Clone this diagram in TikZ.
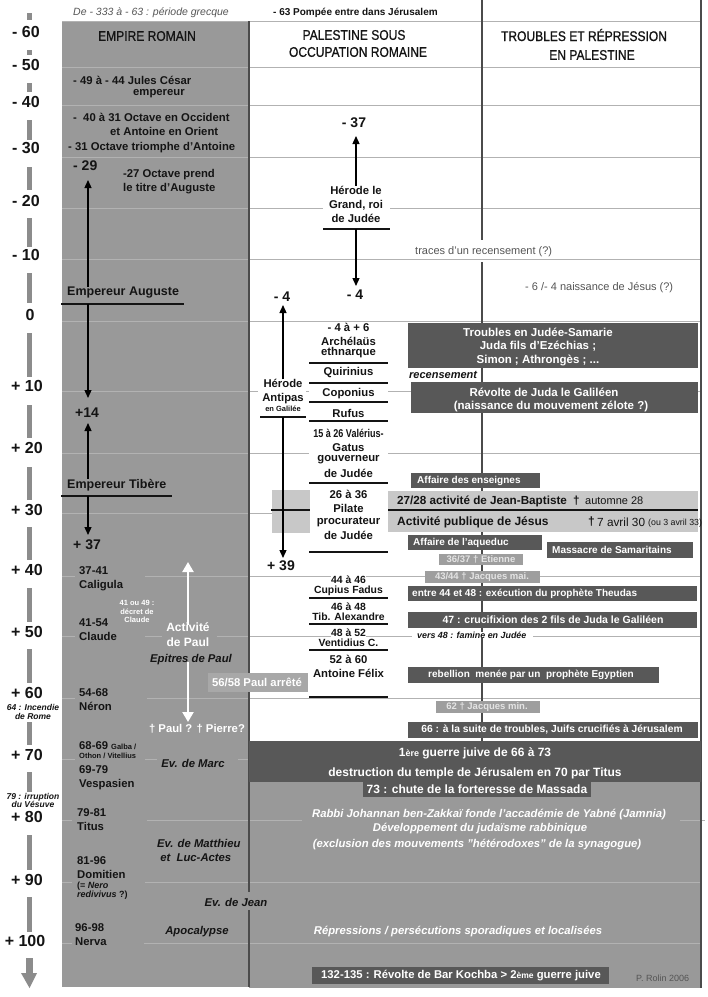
\documentclass[tikz,border=0pt]{standalone}
\usepackage{fontspec}
\setmainfont{Liberation Sans}
\newfontfamily\hdrfont[FakeStretch=0.86,FakeBold=0.8]{Liberation Sans}
\newfontfamily\condfont[FakeStretch=0.8]{Liberation Sans}
\usetikzlibrary{arrows.meta}
\newcommand{\myfs}[2]{\fontsize{#1}{#2}\selectfont}
\definecolor{colg}{RGB}{153,153,153}
\definecolor{dk}{RGB}{88,88,88}
\definecolor{ltg}{RGB}{200,200,200}
\definecolor{mdg}{RGB}{158,158,158}
\definecolor{grd}{RGB}{178,178,178}
\definecolor{vln}{RGB}{75,75,75}
\definecolor{tck}{RGB}{140,140,140}
\definecolor{txt}{RGB}{20,20,20}
\definecolor{soft}{RGB}{85,85,85}
\definecolor{pale}{RGB}{228,228,228}
\tikzset{
  sBase/.style={inner sep=0pt, text=txt},
  sLt/.style={sBase, font=\bfseries\myfs{11.3}{14}},
  sStk/.style={sBase, font=\bfseries\myfs{10.4}{10}},
  sLtB/.style={sBase, font=\bfseries\myfs{12.5}{15}},
  sBig/.style={sBase, font=\bfseries\myfs{14}{16}},
  sScl/.style={sBase, font=\bfseries\myfs{16}{17}},
  sIt/.style={sBase, font=\bfseries\itshape\myfs{11.3}{14}},
  sItSm/.style={sBase, font=\bfseries\itshape\myfs{8.5}{8.5}},
  sWt/.style={inner sep=0pt, text=white, font=\bfseries\myfs{11.3}{14}},
  sWs/.style={inner sep=0pt, text=white, font=\bfseries\myfs{10.3}{12}},
  sWm/.style={inner sep=0pt, text=pale, font=\bfseries\myfs{9.5}{11}},
  sWit/.style={inner sep=0pt, text=white, font=\bfseries\itshape\myfs{11.3}{14}},
  sSoft/.style={inner sep=0pt, text=soft, font=\myfs{11}{13}},
  sHdr/.style={inner sep=0pt, text=txt, font=\hdrfont\myfs{14}{17}},
  sArr/.style={draw=black, line width=1.3pt, -{Triangle[length=8pt,width=7pt]}},
  sWarr/.style={draw=white, line width=2.2pt, -{Triangle[length=10pt,width=11pt]}},
  sUl/.style={draw=txt, line width=1.1pt},
  sGrid/.style={draw=grd, line width=0.7pt},
  sVl/.style={draw=vln, line width=1.1pt},
}
\begin{document}
\begin{tikzpicture}[x=1pt,y=-1pt]
\useasboundingbox (0,0) rectangle (708,997);
\fill[white] (0,0) rectangle (708,997);

% background areas
\fill[colg] (62,22) rectangle (249,987);
\fill[colg] (249,782) rectangle (701,988);

% grid lines
\foreach \y/\a/\b in {21/62/701, 67/62/701, 105/62/701, 157/62/701, 208/62/323, 208/390/701,
  259/62/701, 321/62/701, 391/62/258, 391/306/309, 391/388/701, 453/62/309, 453/388/701,
  513/62/272, 576/62/75, 576/145/701, 636/62/75, 636/145/162, 636/217/412, 636/533/701,
  698/62/75, 698/147/701, 759/62/75, 759/145/157, 759/238/249, 820/62/72, 820/147/302,
  820/680/705, 882/62/72, 882/145/701, 943/62/72, 943/144/701}
  \draw[sGrid] (\a,\y) -- (\b,\y);

% vertical lines
\draw[sVl] (249,21) -- (249,892);
\draw[sVl] (249,910) -- (249,987);
\draw[sVl] (482,0) -- (482,240);
\draw[sVl] (482,262) -- (482,741);
\draw[sVl] (701,0) -- (701,988);

% time scale
\foreach \a/\b in {13/20, 50/55, 83/92, 120/140, 167/190, 218/247, 273/303, 333/377, 405/438,
  467/500, 527/560, 588/622, 649/683, 722/745, 772/792, 835/870, 897/932}
  \fill[tck] (27,\a) rectangle (32,\b);
\fill[tck] (26,958) rectangle (33,973);
\fill[tck] (21,973) -- (37,973) -- (29.5,988) -- cycle;
\foreach \t/\x/\y/\n in {- 60/26/32/a, - 50/26/65/b, - 40/26/102/c, - 30/26/148/d, - 20/26/201/e,
  - 10/26/255/f, 0/30/315/g, + 10/27/386/h, + 20/27/448/i, + 30/27/510/j, + 40/27/570/k,
  + 50/27/632/l, + 60/27/693/m, + 70/27/755/n, + 80/27/817/o, + 90/27/880/p, + 100/25/941/q}
  \node[sScl] (scl\n) at (\x,\y) {\t};
\node[sItSm, align=center] (rome) at (33,712) {64 : Incendie\\de Rome};
\node[sItSm, align=center] (vesuve) at (33,800.5) {79 : irruption\\du Vésuve};

% top texts and headers
\node[sBase, anchor=west, text=soft, font=\itshape\myfs{10.5}{12}] (grec) at (73,13) {De - 333 à - 63 : période grecque};
\node[sBase, anchor=west, font=\bfseries\myfs{10}{12}] (pompee) at (273,13) {- 63 Pompée entre dans Jérusalem};
\node[sHdr] (hEmp) at (147,36) {EMPIRE ROMAIN};
\node[sHdr] (hPal1) at (354,35) {PALESTINE SOUS};
\node[sHdr] (hPal2) at (358,52) {OCCUPATION ROMAINE};
\node[sHdr] (hTro1) at (584,35) {TROUBLES ET RÉPRESSION};
\node[sHdr] (hTro2) at (592,55) {EN PALESTINE};

% Empire romain column
\node[sLt, anchor=west] (cesar1) at (73,80) {- 49 à - 44 Jules César};
\node[sLt, anchor=west] (cesar2) at (133,94) {empereur};
\node[sLt, anchor=west] (oct1) at (73,117) {-\ \ 40 à 31 Octave en Occident};
\node[sLt, anchor=west] (oct2) at (110,131) {et Antoine en Orient};
\node[sLt, anchor=west] (oct3) at (68,148) {- 31 Octave triomphe d'Antoine};
\node[sBig, anchor=west] (m29) at (73,166) {- 29};
\node[sLt, anchor=west, align=left] (oct4) at (123,182) {-27 Octave prend\\le titre d'Auguste};
\node[sLtB, anchor=west] (aug) at (67,293) {Empereur Auguste};
\draw[sUl] (61,304) -- (184,304);
\node[sBig, anchor=west] (p14) at (75,413) {+14};
\node[sLtB, anchor=west] (tib) at (67,485) {Empereur Tibère};
\draw[sUl] (61,496) -- (172,496);
\node[sBig, anchor=west] (p37) at (73,545) {+ 37};

\node[sLt, anchor=west, align=left] (calig) at (79,579) {37-41\\Caligula};
\node[sLt, anchor=west, align=left] (claude) at (79,630) {41-54\\Claude};
\node[sLt, anchor=west, align=left] (neron) at (79,700) {54-68\\Néron};
\node[sLt, anchor=west] (galba) at (79,746) {68-69 {\myfs{7.5}{8}Galba /}};
\node[sBase, anchor=west, font=\bfseries\myfs{7.5}{8}] (othon) at (79,756) {Othon / Vitellius};
\node[sLt, anchor=west, align=left] (vesp) at (79,778) {69-79\\Vespasien};
\node[sLt, anchor=west, align=left] (titus) at (77,820) {79-81\\Titus};
\node[sLt, anchor=west, align=left] (domit) at (77,867.5) {81-96\\Domitien};
\node[sBase, anchor=west, align=left, font=\bfseries\myfs{9}{9.5}] (nero) at (77,890.5) {(= \textit{Nero}\\\textit{redivivus} ?)};
\node[sLt, anchor=west, align=left] (nerva) at (75,934.5) {96-98\\Nerva};

\node[sBase, text=white, align=center, font=\bfseries\myfs{7.5}{8.5}] (decret) at (137,611.5) {41 ou 49 :\\décret de\\Claude};
\node[sWt, align=center, font=\bfseries\myfs{12}{15}] (actp) at (188,634.5) {Activité\\de Paul};
\node[sIt] (epit) at (191,660) {Epitres de Paul};
\fill[mdg!90!white] (208,673) rectangle (308,692);
\node[sWt] (arrete) at (257,682.5) {56/58 Paul arrêté};
\node[sWt] (mort) at (197,729) {† Paul ? † Pierre?};
\node[sIt] (marc) at (193,763) {Ev. de Marc};
\node[sIt, anchor=west, align=left] (matt) at (157,850) {Ev. de Matthieu\\\ et\ \ Luc-Actes};
\node[sIt] (jean) at (236,902) {Ev. de Jean};
\node[sIt] (apoc) at (197,932) {Apocalypse};

% Palestine column
\node[sBig] (m37) at (354,123) {- 37};
\node[sLt, align=center] (herode) at (356,204) {Hérode le\\Grand, roi\\de Judée};
\draw[sUl] (323,229) -- (390,229);
\node[sBig] (m4a) at (355,295) {- 4};
\node[sBig] (m4b) at (282,297) {- 4};
\node[sLt, align=center] (antipas) at (283,392) {Hérode\\Antipas};
\node[sBase, font=\bfseries\myfs{7.5}{8}] (galilee) at (283,409) {en Galilée};
\draw[sUl] (260,417) -- (306,417);
\node[sBig] (p39) at (281,566) {+ 39};

% light band (Jean-Baptiste / Jesus)
\fill[ltg] (272,490) rectangle (310,533);
\fill[ltg] (388,491) rectangle (698,532);
\draw[sUl] (271,510) -- (310,510);
\draw[sUl] (388,510) -- (698,510);

% stack of governors
\foreach \t/\y/\n in {- 4 à + 6/327/a, Archélaüs/341/b, ethnarque/353/c, Quirinius/373/d,
  Coponius/394/e, Rufus/413/f, Gatus/448/h, gouverneur/460/i, de Judée/473/j,
  26 à 36/494/k, Pilate/508/l, procurateur/522/m, de Judée/535/n, 52 à 60/659/o, Antoine Félix/673/p}
  \node[sLt, fill=white, inner sep=0.5pt] (st\n) at (348.5,\y) {\t};
\node[sLt, fill=white, inner sep=0.5pt, font=\condfont\bfseries\myfs{11.3}{14}] (stg) at (348.5,433) {15 à 26 Valérius-};
\foreach \t/\y/\n in {44 à 46/580/q, Cupius Fadus/591/r, 46 à 48/607/s, Tib. Alexandre/617/t,
  48 à 52/633/u, Ventidius C./643/v}
  \node[sStk, fill=white, inner sep=0.5pt] (st\n) at (348.5,\y) {\t};
\foreach \y in {363,383,402,421,483,552,598,624,650,697}
  \draw[sUl] (309,\y) -- (388,\y);

% Troubles column
\node[sSoft, anchor=west] (traces) at (415,252) {traces d'un recensement (?)};
\node[sSoft, anchor=west] (naiss) at (525,288) {- 6 /- 4 naissance de Jésus (?)};

\fill[dk] (408,323) rectangle (698,368);
\node[sWt, align=center, font=\bfseries\myfs{11.5}{13.5}] (troub) at (538,346.5) {Troubles en Judée-Samarie\\Juda fils d'Ezéchias ;\\Simon ; Athrongès ; ...};
\node[sIt, anchor=west, font=\bfseries\itshape\myfs{11}{13}] (recens) at (409,375) {recensement};
\fill[dk] (411,382) rectangle (698,413);
\node[sWt, font=\bfseries\myfs{11.5}{13.5}] (revolte1) at (544,392) {Révolte de Juda le Galiléen};
\node[sWt, font=\bfseries\myfs{11.5}{13.5}] (revolte2) at (551,406) {(naissance du mouvement zélote ?)};
\fill[dk] (411,473) rectangle (540,488);
\node[sWs, anchor=west, font=\bfseries\myfs{10}{12}] (enseig) at (417,480.5) {Affaire des enseignes};

\node[sBase, anchor=west, font=\bfseries\myfs{11.7}{14}] (jb) at (397,501) {27/28 activité de Jean-Baptiste};
\node[sBase, anchor=west, font=\bfseries\myfs{11.7}{14}] (jbd) at (573,501) {†};
\node[sBase, anchor=west, font=\myfs{11}{13}] (jbaut) at (585,501) {automne 28};
\node[sBase, anchor=west, font=\bfseries\myfs{12}{14}] (jes) at (397,522) {Activité publique de Jésus};
\node[sBase, anchor=west, font=\bfseries\myfs{12}{14}] (jesd) at (588,522) {†};
\node[sBase, anchor=west, font=\myfs{11.8}{14}] (jesav) at (597,522) {7 avril 30};
\node[sBase, anchor=west, font=\myfs{8.8}{10}] (jesou) at (648,523) {(ou 3 avril 33)};

\fill[dk] (408,535) rectangle (542,550);
\node[sWs, anchor=west, font=\bfseries\myfs{10}{12}] (aqued) at (413,542.5) {Affaire de l'aqueduc};
\fill[dk] (547,542) rectangle (693,558);
\node[sWs, anchor=west, font=\bfseries\myfs{10}{12}] (samar) at (552,550) {Massacre de Samaritains};
\fill[mdg] (439,554) rectangle (523,565);
\node[sWm] (etienne) at (481,559.5) {36/37 † Etienne};
\fill[mdg] (425,571) rectangle (540,583);
\node[sWm] (jacq1) at (482,577) {43/44 † Jacques mai.};
\fill[dk] (408,586) rectangle (697,601);
\node[sWs, anchor=west, font=\bfseries\myfs{10}{12}] (theud) at (412,593.5) {entre 44 et 48 : exécution du prophète Theudas};
\fill[dk] (408,612) rectangle (697,628);
\node[sWs, font=\bfseries\myfs{10.5}{12}] (cruc) at (553,620) {47 : crucifixion des 2 fils de Juda le Galiléen};
\node[sBase, anchor=west, fill=white, inner xsep=2pt, font=\bfseries\itshape\myfs{8.9}{10}] (famine) at (415,635) {vers 48 : famine en Judée};
\fill[dk] (408,667) rectangle (659,683);
\node[sWs, font=\bfseries\myfs{10}{12}] (egypt) at (531,675) {rebellion\ \ menée par un\ \ prophète Egyptien};
\fill[mdg] (436,701) rectangle (540,713);
\node[sWm] (jacq2) at (487,707) {62 † Jacques min.};
\fill[dk] (408,722) rectangle (698,738);
\node[sWs, font=\bfseries\myfs{10.3}{12}] (juifs) at (552,730) {66 : à la suite de troubles, Juifs crucifiés à Jérusalem};

\fill[dk] (249,741) rectangle (701,782);
\node[sWt, font=\bfseries\myfs{12}{14}] (guerre1) at (475,753) {1{\myfs{9}{10}ère} guerre juive de 66 à 73};
\node[sWt, font=\bfseries\myfs{12}{14}] (guerre2) at (475,773) {destruction du temple de Jérusalem en 70 par Titus};
\fill[dk] (363,782) rectangle (591,797);
\node[sWt, font=\bfseries\myfs{12}{14}] (massada) at (477,789.5) {73 : chute de la forteresse de Massada};

\node[sWit] (rabbi) at (489,815) {Rabbi Johannan ben-Zakkaï fonde l'accadémie de Yabné (Jamnia)};
\node[sWit] (devel) at (480,829) {Développement du judaïsme rabbinique};
\node[sWit] (exclu) at (477,845) {(exclusion des mouvements "hétérodoxes" de la synagogue)};
\node[sWit] (repr) at (458,932) {Répressions / persécutions sporadiques et localisées};
\fill[dk] (312,967) rectangle (609,984);
\node[sWt] (kochba) at (461,975.5) {132-135 : Révolte de Bar Kochba > 2{\myfs{8.5}{10}ème} guerre juive};
\node[sBase, anchor=west, text=soft, font=\myfs{9}{10}] (rolin) at (636,978) {P. Rolin 2006};

% arrows
\coordinate (c29) at (88,180);
\draw[sArr] (aug.north -| c29) -- (c29);
\coordinate (augU) at (88,304);
\coordinate (c14a) at (88,398);
\draw[sArr] (augU) -- (c14a);
\coordinate (c14b) at (88,423);
\draw[sArr] (tib.north -| c14b) -- (c14b);
\coordinate (tibU) at (88,496);
\coordinate (c37) at (88,535);
\draw[sArr] (tibU) -- (c37);
\coordinate (c37h) at (356,136);
\draw[sArr] (herode.north -| c37h) -- (c37h);
\coordinate (herU) at (356,229);
\coordinate (c4a) at (356,286);
\draw[sArr] (herU) -- (c4a);
\coordinate (c4b) at (283,305);
\draw[sArr] (antipas.north -| c4b) -- (c4b);
\coordinate (antU) at (283,417);
\coordinate (c39) at (283,558);
\draw[sArr] (antU) -- (c39);
\coordinate (paulTop) at (188,562);
\draw[sWarr] ([yshift=-3pt]actp.north) -- (paulTop);
\coordinate (paulBot) at (188,722);
\draw[sWarr] ([yshift=3pt]epit.south -| paulBot) -- (paulBot);
\end{tikzpicture}
\end{document}
